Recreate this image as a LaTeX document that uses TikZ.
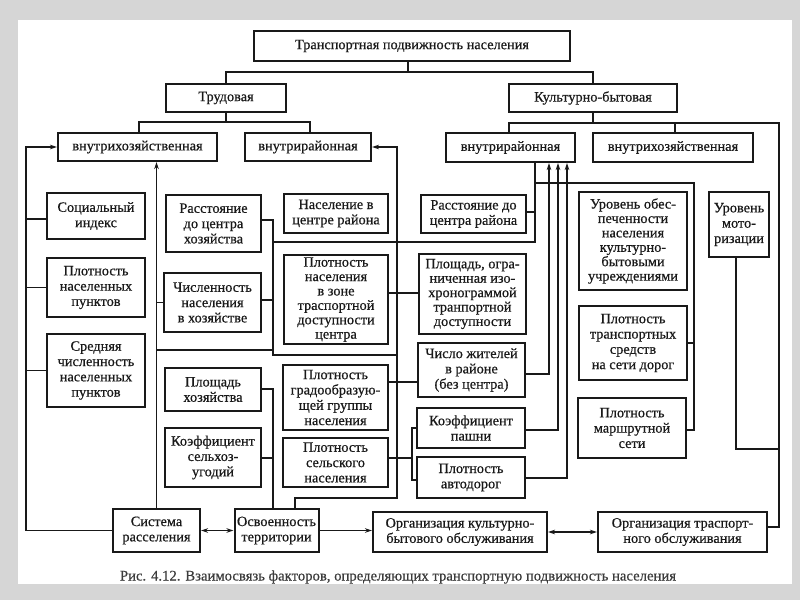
\documentclass[tikz,border=0pt]{standalone}
\usepackage{fontspec}
\setmainfont{Liberation Serif}
\newfontfamily\boxfont{Liberation Serif}[FakeBold=0.5]
\usetikzlibrary{arrows.meta}
\definecolor{bg}{gray}{0.84}
\definecolor{ink}{gray}{0.1}
\begin{document}
\begin{tikzpicture}[x=1pt,y=-1pt,
  box/.style={draw=ink, line width=2pt, inner sep=0pt, align=center, text=ink,
    font=\boxfont\fontsize{14.3}{15.3}\selectfont},
  tight/.style={font=\boxfont\fontsize{14.3}{14.4}\selectfont},
  conn/.style={draw=ink, line width=1.1pt},
  arr/.style={conn, -{Stealth[length=7pt,width=4.5pt]}},
  darr/.style={conn, {Stealth[length=7pt,width=4.5pt]}-{Stealth[length=7pt,width=4.5pt]}}]
\useasboundingbox (0,0) rectangle (800,600);
\fill[bg] (0,0) rectangle (800,600);
\fill[white] (18,20) rectangle (792,584);

% boxes
\node[box, minimum width=316pt, minimum height=30pt] (top) at (412,46) {Транспортная подвижность населения};
\node[box, minimum width=120pt, minimum height=28pt] (trud) at (226,98) {Трудовая};
\node[box, minimum width=168pt, minimum height=28pt] (kult) at (593,98) {Культурно-бытовая};
\node[box, minimum width=159pt, minimum height=28pt] (lvh) at (137.5,147) {внутрихозяйственная};
\node[box, minimum width=126pt, minimum height=28pt] (lvr) at (308,147) {внутрирайонная};
\node[box, minimum width=129pt, minimum height=29pt] (rvr) at (510.5,147.5) {внутрирайонная};
\node[box, minimum width=160pt, minimum height=29pt] (rvh) at (673,147.5) {внутрихозяйственная};

\node[box, minimum width=98pt, minimum height=46pt] (soc) at (96,216) {Социальный\\индекс};
\node[box, minimum width=98pt, minimum height=59pt] (plnp) at (96,287.5) {Плотность\\населенных\\пунктов};
\node[box, minimum width=98pt, minimum height=73pt] (sred) at (96,370.5) {Средняя\\численность\\населенных\\пунктов};

\node[box, minimum width=95pt, minimum height=57pt] (rch) at (213.5,223.5) {Расстояние\\до центра\\хозяйства};
\node[box, minimum width=97pt, minimum height=59pt] (chn) at (212.5,302.5) {Численность\\населения\\в хозяйстве};
\node[box, minimum width=96pt, minimum height=43pt] (ph) at (213,389.5) {Площадь\\хозяйства};
\node[box, minimum width=96pt, minimum height=59pt] (ksu) at (213,457.5) {Коэффициент\\сельхоз-\\угодий};

\node[box, minimum width=104pt, minimum height=39pt] (ncr) at (336,213.5) {Население в\\центре района};
\node[box, tight, minimum width=104pt, minimum height=89pt] (pnz) at (336,299.5) {Плотность\\населения\\в зоне\\траспортной\\доступности\\центра};
\node[box, minimum width=105pt, minimum height=65pt] (pgg) at (335.5,397.5) {Плотность\\градообразую-\\щей группы\\населения};
\node[box, minimum width=105pt, minimum height=49pt] (psn) at (335.5,462.5) {Плотность\\сельского\\населения};

\node[box, minimum width=105pt, minimum height=38pt] (rcr) at (473.5,214) {Расстояние до\\центра района};
\node[box, tight, minimum width=107pt, minimum height=80pt] (pog) at (472.5,294) {Площадь, огра-\\ниченная изо-\\хронограммой\\транпортной\\доступности};
\node[box, minimum width=107pt, minimum height=54pt] (chzh) at (471.5,370) {Число жителей\\в районе\\(без центра)};
\node[box, minimum width=108pt, minimum height=40pt] (kp) at (471,428) {Коэффициент\\пашни};
\node[box, minimum width=108pt, minimum height=41pt] (pad) at (471,477.5) {Плотность\\автодорог};

\node[box, tight, minimum width=108pt, minimum height=98pt] (uo) at (633,241) {Уровень обес-\\печенности\\населения\\культурно-\\бытовыми\\учреждениями};
\node[box, minimum width=108pt, minimum height=74pt] (pts) at (633,343) {Плотность\\транспортных\\средств\\на сети дорог};
\node[box, minimum width=108pt, minimum height=60pt] (pms) at (632,428) {Плотность\\маршрутной\\сети};
\node[box, minimum width=60pt, minimum height=65pt] (um) at (739,224.5) {Уровень\\мото-\\ризации};

\node[box, minimum width=87pt, minimum height=43pt] (sr) at (156.5,530.5) {Система\\расселения};
\node[box, minimum width=84pt, minimum height=43pt] (ot) at (276.5,530.5) {Освоенность\\территории};
\node[box, minimum width=174pt, minimum height=40pt] (okb) at (460,532) {Организация культурно-\\бытового обслуживания};
\node[box, minimum width=169pt, minimum height=40pt] (ots) at (682.5,532) {Организация траспорт-\\ного обслуживания};

\node[text=ink!85, font=\boxfont\fontsize{14.7}{15}\selectfont] (cap) at (398,577) {Рис. 4.12. Взаимосвязь факторов, определяющих транспортную подвижность населения};

% top tree
\draw[conn] (top.south -| 408,0) -- (408,72);
\draw[conn] (trud.north) |- (kult.north |- 0,72) -- (kult.north);
\draw[conn] (trud.south) -- (trud.south |- 0,122);
\draw[conn] (lvh.north -| 139,0) -- (139,122) -- (310,122) -- (lvr.north -| 310,0);
\draw[conn] (kult.south) -- (kult.south |- 0,123);
\draw[conn] (rvr.north -| 509,0) -- (509,123) -- (779,123) -- (779,527) -- (ots.east |- 0,527);
\draw[conn] (rvh.north -| 675,0) -- (675,123);
\draw[conn] (um.south -| 736,0) -- (736,449) -- (779,449);

% left side
\draw[arr] (sr.west) -| (26,147) -- (lvh.west);
\draw[conn] (soc.west |- 0,219) -- (26,219);
\draw[conn] (plnp.west) -- (plnp.west -| 26,0);
\draw[conn] (sred.west) -- (sred.west -| 26,0);

\draw[arr] (sr.north) -- (sr.north |- lvh.south);
\draw[conn] (chn.west) -- (chn.west -| sr.north);
\draw[conn] (sr.north |- 0,350) -- (273,350);

\draw[conn] (rch.east |- 0,220) -| (273,355) -- (397,355);
\draw[conn] (chn.east |- 0,300) -- (273,300);
\draw[conn] (273,242) -- (535,242) -- (rvr.south -| 535,0);
\draw[conn] (rcr.east |- 0,212) -- (535,212);
\draw[conn] (535,183) -- (694,183) -- (694,430) -- (pms.east |- 0,430);
\draw[conn] (pts.east |- 0,343) -- (694,343);

\draw[arr] (ot.north -| 295,0) -- (295,498) -- (397,498) -- (397,147) -- (lvr.east);
\draw[conn] (pnz.east |- 0,293) -- (pog.west |- 0,293);
\draw[conn] (pgg.east |- 0,382) -- (chzh.west |- 0,382);
\draw[conn] (psn.east |- 0,458) -- (412,458);
\draw[conn] (kp.west) -- (412,428) -- (412,480) -- (pad.west |- 0,480);

\draw[conn] (ph.east |- 0,389) -| (ot.north -| 273,0);
\draw[conn] (ksu.east |- 0,458) -- (273,458);

\draw[arr] (chzh.east |- 0,374) -| (rvr.south -| 549,0);
\draw[arr] (kp.east |- 0,430) -| (rvr.south -| 558,0);
\draw[arr] (pad.east |- 0,478) -| (rvr.south -| 567,0);

% bottom
\draw[darr] (sr.east) -- (ot.west);
\draw[arr] (ot.east) -- (ot.east -| okb.west);
\draw[darr] (okb.east) -- (ots.west);
\end{tikzpicture}
\end{document}
